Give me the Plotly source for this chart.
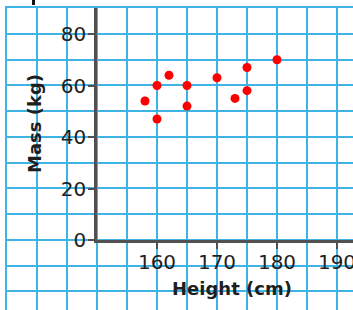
import plotly.graph_objects as go

heights = [158, 160, 160, 162, 165, 165, 170, 173, 175, 175, 180]
masses = [54, 60, 47, 64, 60, 52, 63, 55, 67, 58, 70]
x_ticks = [160, 170, 180, 190]
y_ticks = [0, 20, 40, 60, 80]
x_title = "Height (cm)"
y_title = "Mass (kg)"

W, H = 353, 310
GRID = "#3DB3E6"
AXIS = "#505050"
TXT = "#1e1e1e"
FONT = "DejaVu Sans"

fig = go.Figure()
# invisible trace to create the grid-paper subplot
fig.add_trace(go.Scatter(x=[140], y=[0], mode="markers", marker=dict(opacity=0),
                         xaxis="x", yaxis="y", hoverinfo="skip", showlegend=False))
fig.add_trace(go.Scatter(x=heights, y=masses, mode="markers",
                         marker=dict(color="#ff0000", size=9),
                         xaxis="x2", yaxis="y2", showlegend=False))

px_x = 6.0      # pixels per cm
px_y = 2.575    # pixels per kg
left_grid = 7
axis_x = 97
top = 8
axis_y = 240

fig.update_layout(
    width=W, height=H, margin=dict(l=0, r=0, t=0, b=0, autoexpand=False),
    paper_bgcolor="white", plot_bgcolor="rgba(0,0,0,0)",
    xaxis=dict(domain=[left_grid / W, 1], automargin=False,
               range=[150 - (axis_x - left_grid) / px_x, 150 + (W - axis_x) / px_x],
               tick0=0, dtick=5, showgrid=True, gridcolor=GRID, gridwidth=2,
               showline=True, linecolor=GRID, linewidth=2, side="top",
               showticklabels=False, ticks="", zeroline=False, fixedrange=True),
    yaxis=dict(domain=[0, 1 - top / H], automargin=False,
               range=[90 - (H - top) / px_y, 90],
               tick0=0, dtick=10, showgrid=True, gridcolor=GRID, gridwidth=2,
               showline=True, linecolor=GRID, linewidth=2,
               showticklabels=False, ticks="", zeroline=False, fixedrange=True),
    xaxis2=dict(domain=[axis_x / W, 1], anchor="y2", automargin=False,
                range=[150, 150 + (W - axis_x) / px_x],
                tickvals=x_ticks, ticks="outside", ticklen=6, tickwidth=2, tickcolor=AXIS,
                showline=True, linecolor=AXIS, linewidth=2.5, showgrid=False, zeroline=False,
                ticklabeloverflow="allow", ticklabelstandoff=-4,
                tickfont=dict(family=FONT, size=20, color=TXT)),
    yaxis2=dict(domain=[(H - axis_y) / H, 1 - top / H], anchor="x2", automargin=False,
                range=[0, (axis_y - top) / px_y],
                tickvals=y_ticks, ticks="outside", ticklen=6, tickwidth=2, tickcolor=AXIS,
                showline=True, linecolor=AXIS, linewidth=2.5, showgrid=False, zeroline=False,
                ticklabeloverflow="allow", ticklabelstandoff=-2,
                tickfont=dict(family=FONT, size=20, color=TXT)),
    annotations=[
        dict(text=x_title, xref="paper", yref="paper", x=232 / W, y=1 - 288 / H,
             xanchor="center", yanchor="middle", showarrow=False,
             font=dict(family=FONT, size=18, color=TXT, weight="bold")),
        dict(text=y_title, xref="paper", yref="paper", x=34 / W, y=1 - 124 / H,
             xanchor="center", yanchor="middle", showarrow=False, textangle=-90,
             font=dict(family=FONT, size=18, color=TXT, weight="bold")),
    ],
    shapes=[
        dict(type="line", xref="paper", yref="paper", x0=33.5 / W, x1=33.5 / W,
             y0=1, y1=1 - 5 / H, line=dict(color="#111", width=3)),
    ],
)

fig.write_html("out.html", config={"displayModeBar": False},
               post_script="document.body.style.margin='0';document.body.style.overflow='hidden';")
